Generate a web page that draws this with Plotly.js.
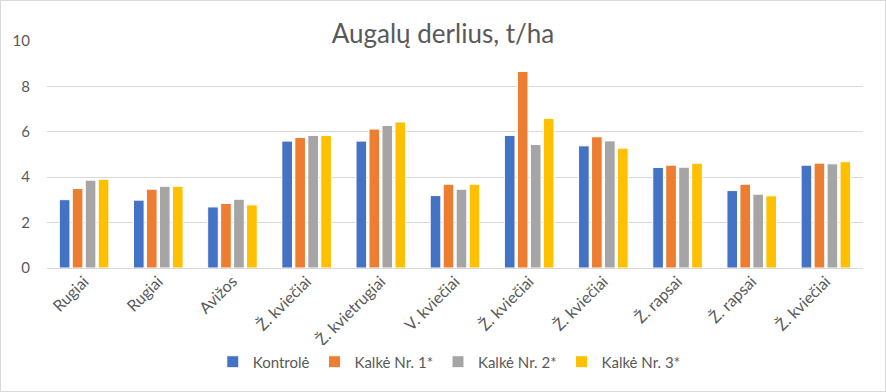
<!DOCTYPE html>
<html>
<head>
<meta charset="utf-8">
<script src="https://cdn.plot.ly/plotly-3.0.1.min.js"></script>
<style>
html,body{margin:0;padding:0;background:#fff;}
#chart{width:884px;height:390px;border:1px solid #d9d9d9;}
</style>
</head>
<body>
<div id="chart"></div>
<script>
const categories = ["Rugiai","Rugiai","Avižos","Ž. kviečiai","Ž. kvietrugiai","V. kviečiai","Ž. kviečiai","Ž. kviečiai","Ž. rapsai","Ž. rapsai","Ž. kviečiai"];
const seriesNames = ["Kontrolė","Kalkė Nr. 1*","Kalkė Nr. 2*","Kalkė Nr. 3*"];
const kontrole = [3.01,2.99,2.69,5.59,5.59,3.19,5.84,5.38,4.43,3.41,4.53];
const kalke1   = [3.50,3.47,2.84,5.75,6.12,3.69,8.66,5.78,4.53,3.69,4.62];
const kalke2   = [3.87,3.60,3.03,5.84,6.28,3.47,5.44,5.60,4.44,3.25,4.59];
const kalke3   = [3.91,3.60,2.78,5.84,6.43,3.69,6.59,5.28,4.62,3.18,4.68];
const colors = ["#4472c4","#ed7d31","#a5a5a5","#ffc000"];
const yTicks = [0,2,4,6,8,10];

const xpos = categories.map((c,i)=>i);
const allSeries = [kontrole,kalke1,kalke2,kalke3];
const traces = allSeries.map((vals,k)=>({
  type:"bar", x:xpos, y:vals, name:seriesNames[k],
  marker:{color:colors[k], line:{color:"#ffffff", width:1}},
  hoverinfo:"y"
}));

const font = "Lato, 'Open Sans', 'DejaVu Sans', sans-serif";
const layout = {
  width:884, height:390,
  margin:{l:46, r:22, t:40, b:123},
  paper_bgcolor:"#fff", plot_bgcolor:"#fff",
  font:{family:font, color:"#595959", size:15},
  title:{text:"Augalų derlius, t/ha", x:0.5, xanchor:"center", xref:"container", y:0.916, yref:"container", yanchor:"middle", font:{size:26, color:"#595959", family:font}},
  barmode:"group", bargap:0.3, bargroupgap:0.18,
  xaxis:{tickmode:"array", tickvals:xpos, ticktext:categories, tickangle:-45, range:[-0.5,10.5],
    showgrid:false, zeroline:false, showline:false, ticks:"", tickfont:{size:16, color:"#595959"}},
  yaxis:{range:[0,10], tickmode:"array", tickvals:yTicks, showgrid:true, gridcolor:"#d9d9d9", gridwidth:1,
    zeroline:true, zerolinecolor:"#d9d9d9", zerolinewidth:1, showline:false, ticks:"", ticklabelstandoff:16, tickfont:{size:15, color:"#595959"}},
  legend:{orientation:"h", x:0.493, xanchor:"center", y:-0.414, yanchor:"middle", font:{size:15, color:"#595959"}, itemwidth:30, traceorder:"normal"},
  showlegend:true
};
Plotly.newPlot("chart", traces, layout, {displayModeBar:false, staticPlot:true});
</script>
</body>
</html>
